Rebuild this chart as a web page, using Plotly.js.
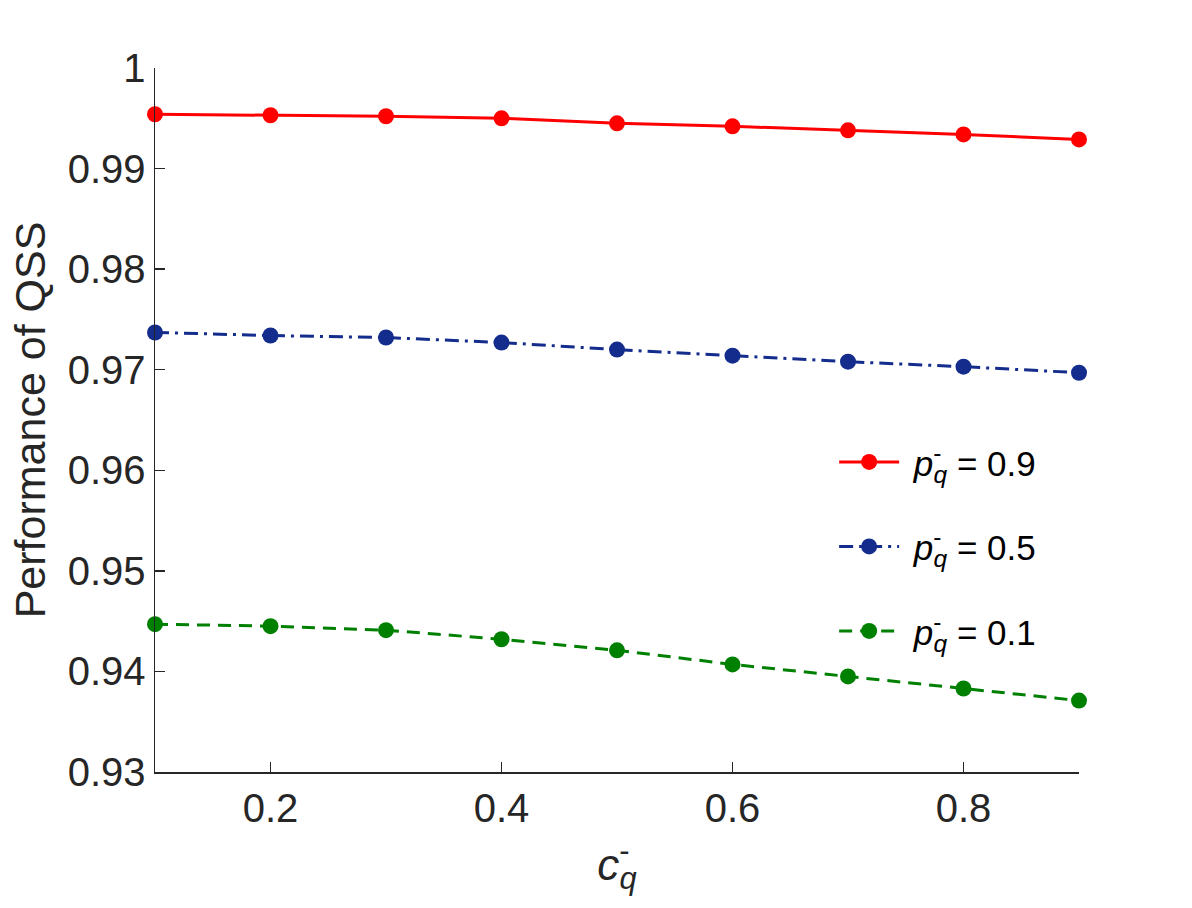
<!DOCTYPE html>
<html>
<head>
<meta charset="utf-8">
<script src="https://cdn.plot.ly/plotly-3.0.1.min.js"></script>
<style>html,body{margin:0;padding:0;background:#fff;}#chart{width:1192px;height:908px;}</style>
</head>
<body>
<div id="chart"></div>
<script>
const cValues = [0.1, 0.2, 0.3, 0.4, 0.5, 0.6, 0.7, 0.8, 0.9];
const perfP09 = [0.9954, 0.9953, 0.9952, 0.9950, 0.9945, 0.9942, 0.9938, 0.9934, 0.9929];
const perfP05 = [0.9737, 0.9734, 0.9732, 0.9727, 0.9720, 0.9714, 0.9708, 0.9703, 0.9697];
const perfP01 = [0.9447, 0.9445, 0.9441, 0.9432, 0.9421, 0.9407, 0.9395, 0.9383, 0.9371];
const pqLabel = '\u00a0<i>p</i><sup><span style="letter-spacing:-8px">-</span></sup><sub><i>q</i></sub> = ';
const pValues = ['0.9', '0.5', '0.1'];
const xTitle = '<i>c</i><sup><span style="letter-spacing:-10px">-</span></sup><sub><i>q</i></sub>';
const xTickVals = [0.2, 0.4, 0.6, 0.8];
const xTickText = ['0.2', '0.4', '0.6', '0.8'];
const yTickVals = [0.93, 0.94, 0.95, 0.96, 0.97, 0.98, 0.99, 1];
const yTickText = ['0.93', '0.94', '0.95', '0.96', '0.97', '0.98', '0.99', '1'];

const FONT = 'Liberation Sans, Arial, Helvetica, sans-serif';
const AX = '#262626';

function tr(y, name, color, dash, grp) {
  return {
    x: cValues, y: y, name: name, type: 'scatter', mode: 'lines+markers',
    line: {color: color, width: 3, dash: dash},
    marker: {color: color, size: 16, symbol: 'circle'},
    legendgroup: grp, cliponaxis: false
  };
}
const data = [
  tr(perfP09, pqLabel + pValues[0], '#ff0000', 'solid', 'a'),
  tr(perfP05, pqLabel + pValues[1], '#142c8c', '14px,6px,3px,6px', 'b'),
  tr(perfP01, pqLabel + pValues[2], '#008000', '13px,8px', 'c')
];
const layout = {
  width: 1192, height: 908,
  margin: {l: 155, r: 113, t: 68, b: 136, pad: 0},
  paper_bgcolor: '#fff', plot_bgcolor: '#fff',
  font: {family: FONT, color: AX, size: 40},
  showlegend: true,
  legend: {
    x: 0.735, y: 0.482, xanchor: 'left', yanchor: 'top',
    bgcolor: 'rgba(0,0,0,0)', borderwidth: 0,
    font: {family: FONT, size: 35, color: '#000'},
    traceorder: 'grouped', tracegroupgap: 36, itemwidth: 60
  },
  xaxis: {
    range: [0.1, 0.9], tickvals: xTickVals, ticktext: xTickText,
    ticks: 'inside', ticklen: 10, tickwidth: 1.5, tickcolor: AX,
    showline: true, linecolor: AX, linewidth: 1.5, mirror: false,
    showgrid: false, zeroline: false,
    tickfont: {family: FONT, size: 40, color: AX},
    title: {text: xTitle, font: {family: FONT, size: 44, color: AX}, standoff: 20}
  },
  yaxis: {
    range: [0.93, 1], tickvals: yTickVals, ticktext: yTickText,
    ticks: 'inside', ticklen: 10, tickwidth: 1.5, tickcolor: AX,
    showline: true, linecolor: AX, linewidth: 1.5, mirror: false,
    showgrid: false, zeroline: false,
    tickfont: {family: FONT, size: 40, color: AX},
    title: {text: 'Performance of QSS', font: {family: FONT, size: 43, color: AX}, standoff: 8}
  }
};
Plotly.newPlot('chart', data, layout, {displayModeBar: false, staticPlot: true});
</script>
</body>
</html>
